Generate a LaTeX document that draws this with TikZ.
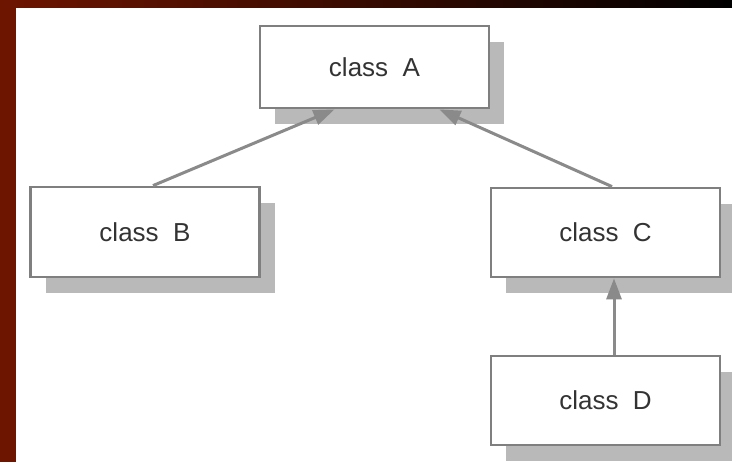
\documentclass[tikz,border=0pt]{standalone}
\usepackage{fontspec}
\setmainfont{Liberation Sans}
\usepackage{tikz}
\usetikzlibrary{shadows, arrows.meta}
\definecolor{frameRed}{HTML}{6E1500}
\definecolor{barRed}{HTML}{800000}
\definecolor{boxGray}{HTML}{7F7F7F}
\definecolor{shadeGray}{HTML}{B9B9B9}
\definecolor{arrowGray}{HTML}{8A8A8A}
\definecolor{textGray}{HTML}{333333}

\begin{document}
\begin{tikzpicture}[x=1pt, y=-1pt,
    classbox/.style={draw=boxGray, line width=2.8pt, fill=white, minimum width=229pt,
      inner sep=0pt, text=textGray, font=\fontsize{26}{30}\selectfont,
      copy shadow={shadow xshift=15pt, shadow yshift=-16pt, fill=shadeGray, draw=none}},
    inherit/.style={draw=arrowGray, line width=3pt, -{Triangle[length=21pt, width=15pt]}}]
  \useasboundingbox (0,0) rectangle (732,462);
  % frame
  \fill[frameRed] (0,0) rectangle (732,462);
  \shade[left color=frameRed, middle color=barRed, right color=black] (0,0) rectangle (732,8);
  \fill[white] (16,8) rectangle (732,462);
  % classes
  \foreach \name/\x/\y/\h in {A/374.5/67/82, B/145/232/90, C/605.5/232.5/89, D/605.5/400.5/89}
    \node[classbox, minimum height=\h pt] (\name) at (\x,\y) {class\ \ \name};
  % inheritance
  \draw[inherit] ([xshift=8pt]B.north) -- ([xshift=-40pt]A.south);
  \draw[inherit] ([xshift=6.5pt]C.north) -- ([xshift=65pt]A.south);
  \draw[inherit] ([xshift=8.5pt]D.north) -- ([xshift=8.5pt]C.south);
\end{tikzpicture}
\end{document}
